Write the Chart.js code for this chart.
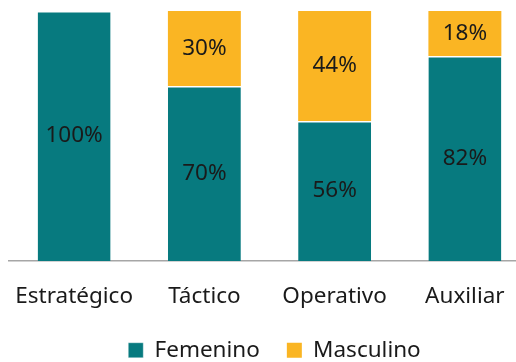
<!DOCTYPE html>
<html>
<head>
<meta charset="utf-8">
<script src="https://cdn.jsdelivr.net/npm/chart.js@4/dist/chart.umd.min.js"></script>
<style>
  html, body { margin: 0; padding: 0; overflow: hidden; background: #fff; }
  #wrap { width: 548px; height: 362px; }
</style>
</head>
<body>
<div id="wrap"><canvas id="niveles"></canvas></div>
<script>
const niveles = ['Estratégico', 'Táctico', 'Operativo', 'Auxiliar'];
const femenino = [100, 70, 56, 82];
const masculino = [0, 30, 44, 18];

const fuente = "'Noto Sans', sans-serif";
const tam = 22.5;

// porcentaje centrado dentro de cada segmento
const etiquetas = {
    id: 'etiquetas',
    afterDatasetsDraw(chart) {
        const ctx = chart.ctx;
        ctx.save();
        ctx.font = tam + 'px ' + fuente;
        ctx.fillStyle = '#1a1a1a';
        ctx.textAlign = 'center';
        ctx.textBaseline = 'middle';
        chart.data.datasets.forEach((ds, i) => {
            chart.getDatasetMeta(i).data.forEach((bar, j) => {
                const v = ds.data[j];
                if (!v) return;
                ctx.fillText(v + '%', bar.x, (bar.y + bar.base) / 2);
            });
        });
        ctx.restore();
    }
};

// la leyenda se dibuja algo más arriba y a la derecha de su caja
const moverLeyenda = {
    id: 'moverLeyenda',
    afterLayout(chart) {
        const lg = chart.legend;
        lg.left += 5;
        lg.right += 5;
        lg.top -= 12;
    }
};

const config = {
    type: 'bar',
    data: {
        labels: niveles,
        datasets: [{
            label: 'Femenino',
            data: femenino,
            backgroundColor: '#077a7f',
            borderColor: '#ffffff',
            borderWidth: { top: 1.5, left: 0, right: 0, bottom: 0 },
            borderSkipped: false,
            categoryPercentage: 1,
            barPercentage: 0.56
        },
        {
            label: 'Masculino',
            data: masculino,
            backgroundColor: '#fab523',
            borderWidth: 0,
            categoryPercentage: 1,
            barPercentage: 0.56
        }]
    },
    options: {
        responsive: true,
        maintainAspectRatio: false,
        animation: false,
        layout: {
            padding: { left: 9, right: 18, top: 11, bottom: 0 }
        },
        plugins: {
            legend: {
                position: 'bottom',
                maxHeight: 38,
                labels: {
                    boxWidth: 15,
                    boxHeight: 15,
                    padding: 27,
                    color: '#1a1a1a',
                    font: { family: fuente, size: tam }
                }
            },
            tooltip: { enabled: false }
        },
        scales: {
            x: {
                stacked: true,
                grid: { display: false },
                border: { display: true, color: '#a6a6a6', width: 1.5 },
                ticks: {
                    color: '#1a1a1a',
                    padding: 14,
                    font: { family: fuente, size: tam }
                },
                // sin margen extra a los lados por las etiquetas
                afterFit(scale) {
                    scale.paddingLeft = 0;
                    scale.paddingRight = 0;
                }
            },
            y: {
                stacked: true,
                display: false,
                min: 0,
                max: 100
            }
        }
    },
    plugins: [etiquetas, moverLeyenda]
};

new Chart(document.getElementById('niveles'), config);
</script>
</body>
</html>
